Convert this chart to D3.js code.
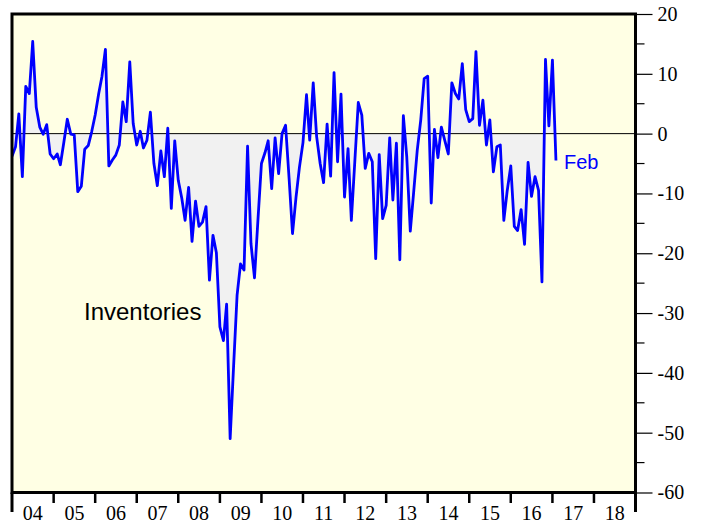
<!DOCTYPE html>
<html>
<head>
<meta charset="utf-8">
<script src="https://d3js.org/d3.v7.min.js"></script>
<style>
body {margin: 0; background: #fff;}
svg {display: block;}
</style>
</head>
<body>
<div id="chart"></div>
<script>
// monthly index values, Jan 2004 .. Feb 2017
var startMonth = new Date(2004, 0, 1);
var inventories = [
  -3.8, -2.2, 3.3, -7.2, 7.9, 6.7, 15.4, 4.4, 1.1, -0.1, 1.5, -3.4,
  -4.2, -3.4, -5.2, -1.4, 2.4, -0.1, -0.2, -9.7, -8.8, -2.6, -2.0, 0.3,
  3.1, 6.7, 9.5, 14.1, -5.4, -4.4, -3.6, -1.9, 5.3, 2.0, 12.0, 1.7,
  -1.9, 0.4, -2.4, -1.1, 3.6, -5.0, -8.7, -2.9, -7.2, 0.9, -12.5, -1.2,
  -7.8, -10.8, -14.5, -9.0, -18.0, -11.3, -15.5, -14.8, -12.2, -24.5, -17.0, -19.9,
  -32.3, -34.6, -28.5, -51.0, -39.0, -27.0, -21.8, -22.8, -2.1, -18.4, -24.1, -14.5,
  -5.0, -3.2, -1.2, -9.2, -0.7, -6.7, 0.0, 1.4, -7.5, -16.7, -10.6, -5.6,
  -1.5, 6.5, -1.1, 8.5, -0.5, -5.0, -8.2, 1.6, -7.1, 10.2, -4.7, 6.6,
  -10.6, -2.5, -14.5, -4.5, 5.2, 3.1, -5.8, -3.3, -4.7, -20.9, -3.5, -14.2,
  -12.0, -0.7, -11.1, -1.6, -21.1, 3.0, -3.9, -16.3, -9.5, -2.8, 2.3, 9.2,
  9.6, -11.6, 0.7, -4.0, 1.1, -1.2, -3.4, 8.5, 6.7, 5.8, 11.7, 4.0,
  2.0, 2.5, 13.7, 1.4, 5.6, -1.9, 2.3, -6.4, -2.2, -1.9, -14.5, -9.5,
  -5.4, -15.5, -16.2, -12.7, -18.5, -4.8, -10.5, -7.2, -9.5, -24.8, 12.4, 1.3,
  12.3, -4.5
];
var yearLabels = ["04","05","06","07","08","09","10","11","12","13","14","15","16","17","18"];
var yTicks = [20, 10, 0, -10, -20, -30, -40, -50, -60];
var yMinorTicks = [15, 5, -5, -15, -25, -35, -45, -55];
var seriesName = "Inventories";
var lastLabel = "Feb";

var width = 703, height = 529;
var plotLeft = 12, plotRight = 635.5, plotTop = 14, plotBottom = 492.5;

var svg = d3.select("#chart").append("svg")
  .attr("width", width)
  .attr("height", height);

var data = inventories.map(function(v, i) {
  return {date: d3.timeMonth.offset(startMonth, i), value: v};
});

var x = d3.scaleTime()
  .domain([new Date(2004, 0, 1), new Date(2019, 0, 1)])
  .range([plotLeft, plotRight]);
var y = d3.scaleLinear()
  .domain([-60, 20])
  .range([plotBottom, plotTop]);

svg.append("defs").append("clipPath").attr("id", "plot")
  .append("rect")
  .attr("x", plotLeft).attr("y", plotTop)
  .attr("width", plotRight - plotLeft).attr("height", plotBottom - plotTop);

// plot background
svg.append("rect")
  .attr("x", plotLeft).attr("y", plotTop)
  .attr("width", plotRight - plotLeft).attr("height", plotBottom - plotTop)
  .attr("fill", "#ffffe4");

var g = svg.append("g").attr("clip-path", "url(#plot)");

g.append("path")
  .datum(data)
  .attr("fill", "#f1f1f1")
  .attr("d", d3.area()
    .x(function(d) { return x(d.date); })
    .y0(y(0))
    .y1(function(d) { return y(d.value); }));

g.append("line")
  .attr("x1", plotLeft).attr("x2", plotRight)
  .attr("y1", y(0)).attr("y2", y(0))
  .attr("stroke", "#000")
  .attr("stroke-width", 1);

g.append("path")
  .datum(data)
  .attr("fill", "none")
  .attr("stroke", "#0000ff")
  .attr("stroke-width", 2.8)
  .attr("stroke-linejoin", "round")
  .attr("d", d3.line()
    .x(function(d) { return x(d.date); })
    .y(function(d) { return y(d.value); }));

// frame
svg.append("rect")
  .attr("x", plotLeft).attr("y", plotTop)
  .attr("width", plotRight - plotLeft).attr("height", plotBottom - plotTop)
  .attr("fill", "none")
  .attr("stroke", "#000")
  .attr("stroke-width", 3);

// right axis (plain hyphen for negatives, as in the original)
var yAxis = svg.append("g")
  .attr("transform", "translate(" + plotRight + ",0)")
  .call(d3.axisRight(y).tickValues(yTicks).tickSize(17).tickPadding(5)
    .tickFormat(function(d) { return String(d); }));
yAxis.select(".domain").remove();
yAxis.selectAll(".tick line").attr("stroke-width", 1.2);
yAxis.selectAll("text")
  .attr("font-family", "'Liberation Serif', 'Times New Roman', serif")
  .attr("font-size", 20)
  .attr("fill", "#000");

svg.append("g")
  .attr("transform", "translate(" + plotRight + ",0)")
  .selectAll("line").data(yMinorTicks).enter().append("line")
  .attr("x1", 0).attr("x2", 9)
  .attr("y1", function(d) { return y(d); })
  .attr("y2", function(d) { return y(d); })
  .attr("stroke", "#000")
  .attr("stroke-width", 1.2);

// bottom year ticks and labels
var years = d3.range(2004, 2020).map(function(yr) { return new Date(yr, 0, 1); });
svg.append("g").selectAll("line").data(years).enter().append("line")
  .attr("x1", function(d) { return x(d); })
  .attr("x2", function(d) { return x(d); })
  .attr("y1", plotBottom)
  .attr("y2", function(d, i) { return (i === 0 || i === years.length - 1) ? 512 : 503; })
  .attr("stroke", "#000")
  .attr("stroke-width", function(d, i) { return (i === 0 || i === years.length - 1) ? 3 : 2.5; });

svg.append("g").selectAll("text").data(yearLabels).enter().append("text")
  .attr("x", function(d, i) { return (x(years[i]) + x(years[i + 1])) / 2; })
  .attr("y", 520)
  .attr("text-anchor", "middle")
  .attr("font-family", "'Liberation Serif', 'Times New Roman', serif")
  .attr("font-size", 20)
  .attr("fill", "#000")
  .text(function(d) { return d; });

// annotations
svg.append("text")
  .attr("x", 84).attr("y", 320)
  .attr("font-family", "'Liberation Sans', Arial, sans-serif")
  .attr("font-size", 24)
  .attr("fill", "#000")
  .text(seriesName);

var last = data[data.length - 1];
svg.append("text")
  .attr("x", x(last.date) + 8).attr("y", 168.5)
  .attr("font-family", "'Liberation Sans', Arial, sans-serif")
  .attr("font-size", 20)
  .attr("fill", "#0000ff")
  .text(lastLabel);
</script>
</body>
</html>
